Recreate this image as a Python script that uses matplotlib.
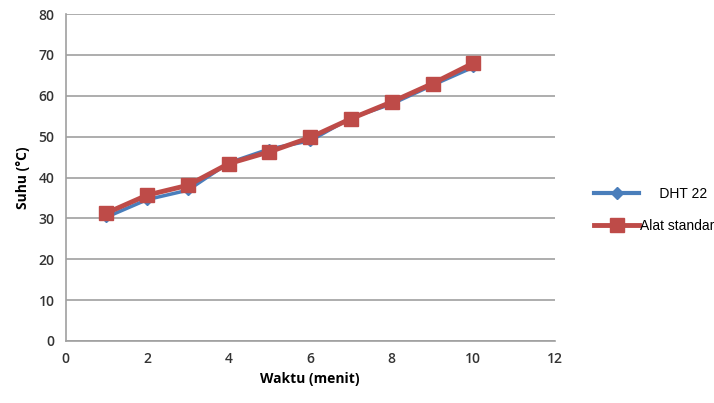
import matplotlib.pyplot as plt
from matplotlib.lines import Line2D

waktu = [1, 2, 3, 4, 5, 6, 7, 8, 9, 10]
dht22 = [30.3, 34.6, 36.9, 43.6, 47.0, 49.0, 54.6, 58.0, 62.6, 67.0]
alat_standar = [31.3, 35.7, 38.1, 43.4, 46.3, 49.8, 54.4, 58.5, 63.0, 68.0]

plt.rcParams['font.family'] = ['Open Sans', 'DejaVu Sans']

fig = plt.figure(figsize=(7.14, 4.03), dpi=100)
ax = fig.add_axes([0.092, 0.154, 0.685, 0.811])

ax.plot(waktu, dht22, '-D', color='#4a7ebb', lw=2.5, ms=5, zorder=3)
ax.plot(waktu, alat_standar, '-s', color='#be4b48', lw=3.5, ms=10, zorder=4)

ax.set_xlim(0, 12)
ax.set_ylim(0, 80)
ax.set_xticks(range(0, 13, 2))
ax.set_yticks(range(0, 81, 10))
ax.grid(axis='y', color='#a0a0a0', lw=1.2)
ax.set_axisbelow(True)
for s in ['top', 'right']:
    ax.spines[s].set_visible(False)
for s in ['left', 'bottom']:
    ax.spines[s].set_color('#a0a0a0')
    ax.spines[s].set_linewidth(1.2)
ax.tick_params(length=0, labelsize=10, colors='#333333', pad=8)
for lab in ax.get_xticklabels() + ax.get_yticklabels():
    lab.set_fontweight('semibold')

ax.set_xlabel('Waktu (menit)', fontsize=10, fontweight='bold', labelpad=4)
ax.set_ylabel('Suhu (°C)', fontsize=10, fontweight='bold', labelpad=6)

handles = [
    Line2D([], [], color='#4a7ebb', lw=3, marker='D', ms=6),
    Line2D([], [], color='#be4b48', lw=3.5, marker='s', ms=10),
]
fig.legend(handles, ['     DHT 22', 'Alat standar'], loc='center left',
           bbox_to_anchor=(0.815, 0.48), frameon=False, fontsize=10,
           handlelength=3.2, handletextpad=0.1, labelspacing=1.3,
           prop={'family': ['Liberation Sans', 'DejaVu Sans'], 'size': 10})

fig.savefig('out.png', dpi=100)
